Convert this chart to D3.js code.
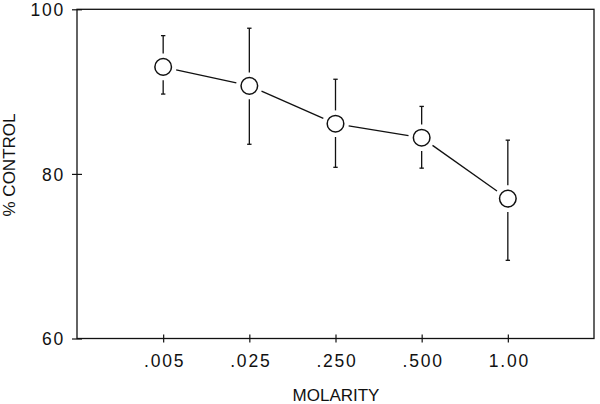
<!DOCTYPE html>
<html lang="en">
  <head>
    <meta charset="utf-8">
    <title>Molarity vs % control</title>
    <script src="https://d3js.org/d3.v7.min.js"></script>
    <style>
      body { margin: 0; background: #fff; }
      text { font-family: "Liberation Sans", Arial, sans-serif; fill: #111; }
    </style>
  </head>

  <body>
  <script>

// data
  var molarity   = [".005", ".025", ".250", ".500", "1.00"];
  var pctControl = [93.0, 90.7, 86.1, 84.4, 77.0];
  var errHigh    = [96.8, 97.7, 91.5, 88.2, 84.1];
  var errLow     = [89.7, 83.6, 80.8, 80.7, 69.5];
  var yTicks     = [60, 80, 100];

  var w = 600;
  var h = 404;
  // plot box edges ("top" is taken by window.top, so prefixed)
  var pL = 77, pR = 594, pT = 9.3, pB = 338.5;

  var svg = d3.select("body")
    .append("svg")
      .attr("width", w)
      .attr("height", h);

  var xScale = d3.scalePoint()
    .domain(molarity)
    .range([pL, pR])
    .padding(1);

  var yScale = d3.scaleLinear()
    .domain([60, 100])
    .range([pB, pT]);

  var ink = "#111";
  var r = 8.3;     // marker radius
  var gap = 5;     // white space left round each marker

// frame
  svg.append("rect")
      .attr("x", pL)
      .attr("y", pT)
      .attr("width", pR - pL)
      .attr("height", pB - pT)
      .attr("fill", "none")
      .attr("stroke", ink)
      .attr("stroke-width", 1.3);

// x axis: ticks cross the line
  var xAxis = svg.append("g")
      .attr("transform", "translate(0," + pB + ")")
      .call(d3.axisBottom(xScale).tickSizeOuter(0));
  xAxis.select(".domain").remove();
  xAxis.selectAll(".tick line")
      .attr("y1", -4).attr("y2", 4)
      .attr("stroke", ink).attr("stroke-width", 1.2);
  xAxis.selectAll(".tick text")
      .attr("x", 1)
      .attr("y", 28).attr("dy", 0)
      .attr("font-size", 17.5)
      .attr("letter-spacing", 1.8)
      .attr("fill", ink);

// y axis
  var yAxis = svg.append("g")
      .attr("transform", "translate(" + pL + ",0)")
      .call(d3.axisLeft(yScale).tickValues(yTicks).tickSizeOuter(0));
  yAxis.select(".domain").remove();
  yAxis.selectAll(".tick line")
      .attr("x1", -5).attr("x2", 5)
      .attr("stroke", ink).attr("stroke-width", 1.2);
  yAxis.selectAll(".tick text")
      .attr("x", -12).attr("dy", "0.36em")
      .attr("font-size", 17.5)
      .attr("letter-spacing", 1.8)
      .attr("fill", ink);

// axis titles
  svg.append("text")
      .attr("x", 336)
      .attr("y", 401)
      .attr("text-anchor", "middle")
      .attr("font-size", 17)
      .text("MOLARITY");

  svg.append("text")
      .attr("transform", "translate(15,165) rotate(-90)")
      .attr("text-anchor", "middle")
      .attr("font-size", 17)
      .text("% CONTROL");

  var pts = molarity.map(function (m, i) {
    return { x: xScale(m), y: yScale(pctControl[i]), hi: yScale(errHigh[i]), lo: yScale(errLow[i]) };
  });

// connecting segments, stopped short of the markers
  var segs = d3.pairs(pts).map(function (p) {
    var a = p[0], b = p[1];
    var dx = b.x - a.x, dy = b.y - a.y, len = Math.sqrt(dx * dx + dy * dy);
    var k = (r + gap) / len;
    return { x1: a.x + dx * k, y1: a.y + dy * k, x2: b.x - dx * k, y2: b.y - dy * k };
  });

  svg.selectAll("line.seg")
      .data(segs)
    .enter().append("line")
      .attr("class", "seg")
      .attr("x1", d => d.x1).attr("y1", d => d.y1)
      .attr("x2", d => d.x2).attr("y2", d => d.y2)
      .attr("stroke", ink)
      .attr("stroke-width", 1.3);

// error bars
  var err = svg.selectAll("g.err")
      .data(pts)
    .enter().append("g")
      .attr("class", "err")
      .attr("stroke", ink)
      .attr("stroke-width", 1.3);

  err.append("line")
      .attr("x1", d => d.x).attr("x2", d => d.x)
      .attr("y1", d => d.hi).attr("y2", d => d.y - r - gap);
  err.append("line")
      .attr("x1", d => d.x).attr("x2", d => d.x)
      .attr("y1", d => d.y + r + gap).attr("y2", d => d.lo);
  err.append("line")
      .attr("x1", d => d.x - 2.2).attr("x2", d => d.x + 2.2)
      .attr("y1", d => d.hi).attr("y2", d => d.hi);
  err.append("line")
      .attr("x1", d => d.x - 2.2).attr("x2", d => d.x + 2.2)
      .attr("y1", d => d.lo).attr("y2", d => d.lo);

// open circle markers
  svg.selectAll("circle")
      .data(pts)
    .enter().append("circle")
      .attr("cx", d => d.x)
      .attr("cy", d => d.y)
      .attr("r", r)
      .attr("fill", "#fff")
      .attr("stroke", ink)
      .attr("stroke-width", 1.5);

  </script>
  </body>
</html>
